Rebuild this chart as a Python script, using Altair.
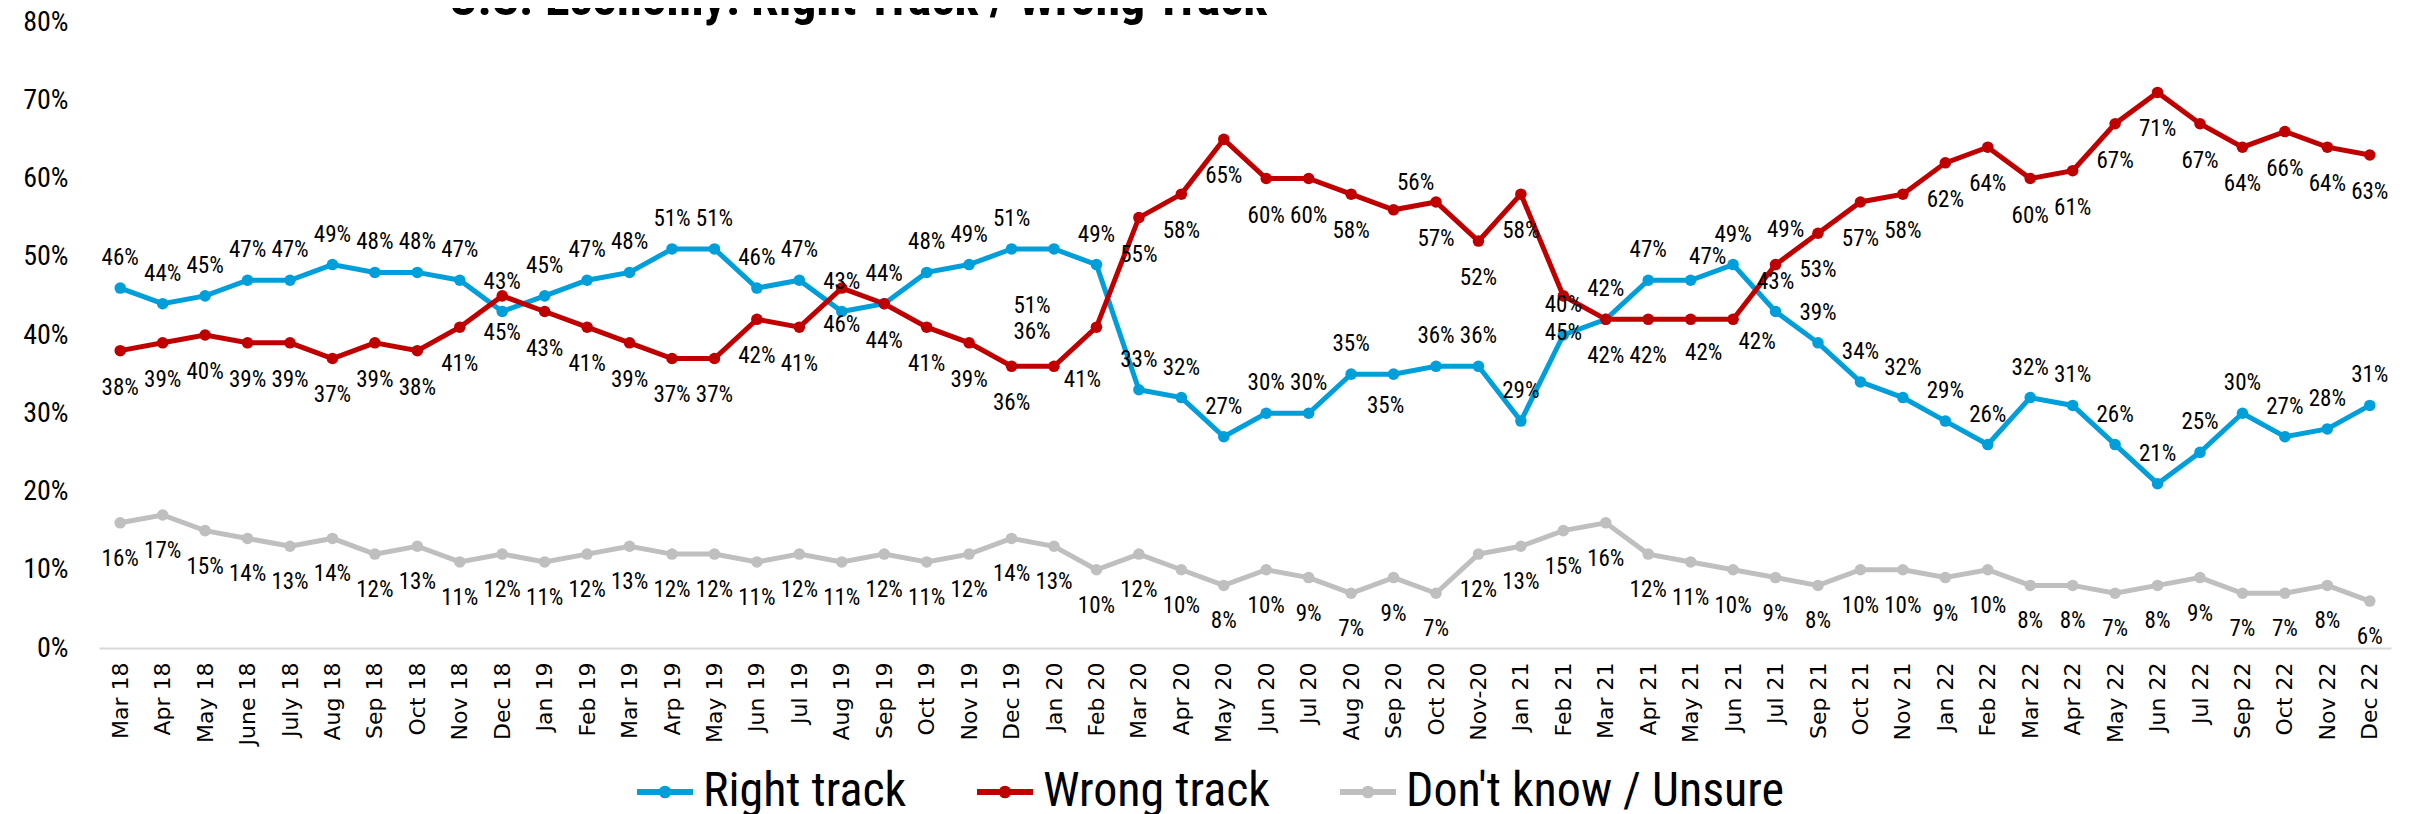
import altair as alt
import pandas as pd

MONTHS = ["Mar 18", "Apr 18", "May 18", "June 18", "July 18", "Aug 18", "Sep 18", "Oct 18", "Nov 18", "Dec 18",
          "Jan 19", "Feb 19", "Mar 19", "Arp 19", "May 19", "Jun 19", "Jul 19", "Aug 19", "Sep 19", "Oct 19", "Nov 19", "Dec 19",
          "Jan 20", "Feb 20", "Mar 20", "Apr 20", "May 20", "Jun 20", "Jul 20", "Aug 20", "Sep 20", "Oct 20", "Nov-20",
          "Jan 21", "Feb 21", "Mar 21", "Apr 21", "May 21", "Jun 21", "Jul 21", "Sep 21", "Oct 21", "Nov 21",
          "Jan 22", "Feb 22", "Mar 22", "Apr 22", "May 22", "Jun 22", "Jul 22", "Sep 22", "Oct 22", "Nov 22", "Dec 22"]

RIGHT = [46, 44, 45, 47, 47, 49, 48, 48, 47, 43,
         45, 47, 48, 51, 51, 46, 47, 43, 44, 48, 49, 51,
         51, 49, 33, 32, 27, 30, 30, 35, 35, 36, 36,
         29, 40, 42, 47, 47, 49, 43, 39, 34, 32,
         29, 26, 32, 31, 26, 21, 25, 30, 27, 28, 31]

WRONG = [38, 39, 40, 39, 39, 37, 39, 38, 41, 45,
         43, 41, 39, 37, 37, 42, 41, 46, 44, 41, 39, 36,
         36, 41, 55, 58, 65, 60, 60, 58, 56, 57, 52,
         58, 45, 42, 42, 42, 42, 49, 53, 57, 58,
         62, 64, 60, 61, 67, 71, 67, 64, 66, 64, 63]

DONT_KNOW = [16, 17, 15, 14, 13, 14, 12, 13, 11, 12,
             11, 12, 13, 12, 12, 11, 12, 11, 12, 11, 12, 14,
             13, 10, 12, 10, 8, 10, 9, 7, 9, 7, 12,
             13, 15, 16, 12, 11, 10, 9, 8, 10, 10,
             9, 10, 8, 8, 7, 8, 9, 7, 7, 8, 6]

SERIES = ["Right track", "Wrong track", "Don't know / Unsure"]
COLORS = ["#009FDA", "#C00000", "#BFBFBF"]
TITLE = "U.S. Economy: Right Track / Wrong Track"

# label placement (pixel nudges) per series, plus a few individual ones
LABEL_DEFAULT = {"Right track": (0, -30), "Wrong track": (0, 37), "Don't know / Unsure": (0, 36)}
LABEL_NUDGE = {
    ("Right track", "Jan 20"): (-22, 57),
    ("Wrong track", "Jan 20"): (-22, -34),
    ("Wrong track", "Feb 20"): (-14, 53),
    ("Wrong track", "Sep 20"): (22, -27),
    ("Right track", "Sep 20"): (-8, 32),
    ("Right track", "May 21"): (17, -23),
    ("Wrong track", "May 21"): (13, 34),
    ("Wrong track", "Jun 21"): (24, 23),
    ("Wrong track", "Jul 21"): (10, -35),
}

rows = []
for name, vals in zip(SERIES, [RIGHT, WRONG, DONT_KNOW]):
    for m, v in zip(MONTHS, vals):
        dx, dy = LABEL_NUDGE.get((name, m), LABEL_DEFAULT[name])
        rows.append({"month": m, "series": name, "share": v / 100.0, "lx": dx, "ly": dy})
df = pd.DataFrame(rows)

NARROW = "Liberation Sans Narrow, Arial Narrow, Roboto Condensed, Liberation Sans, sans-serif"
LEG_PATH = "M-1,0L1,0M-0.12,0A0.12,0.12,0,1,1,0.12,0A0.12,0.12,0,1,1,-0.12,0Z"

x = alt.X("month:N", sort=MONTHS, scale=alt.Scale(type="point", padding=0.5),
          axis=alt.Axis(title=None, labelAngle=270, labelFont="DejaVu Sans", labelFontSize=22,
                        labelColor="#000000", ticks=False, labelPadding=14, domainColor="#D9D9D9",
                        domainWidth=2, grid=False, labelOverlap=False))
y = alt.Y("share:Q", scale=alt.Scale(domain=[0, 0.8], nice=False),
          axis=alt.Axis(title=None, format=".0%", values=[i / 10 for i in range(9)], domain=False,
                        ticks=False, grid=False, labelFont=NARROW, labelFontSize=28,
                        labelColor="#000000", labelPadding=31))
color = alt.Color("series:N", scale=alt.Scale(domain=SERIES, range=COLORS),
                  legend=alt.Legend(orient="none", legendX=535, legendY=739, direction="horizontal",
                                    title=None, symbolType=LEG_PATH, symbolSize=3136,
                                    symbolStrokeWidth=6, labelFontSize=48, labelFont=NARROW,
                                    labelColor="#000000", columnPadding=58, labelOffset=7,
                                    labelLimit=1000, symbolOpacity=1))

lines = alt.Chart(df).mark_line(strokeWidth=5).encode(x=x, y=y, color=color)
dots = alt.Chart(df).mark_circle(size=133, opacity=1).encode(x=x, y=y, color=color)

label_layers = []
for (dx, dy), part in df.groupby(["lx", "ly"]):
    label_layers.append(
        alt.Chart(part).mark_text(font=NARROW, fontSize=23, color="#000000", baseline="middle",
                                  dx=int(dx), dy=int(dy)).encode(
            x=x, y=y, text=alt.Text("share:Q", format=".0%"))
    )

# chart title (its upper part falls outside the picture, as in the original slide crop)
title_text = alt.Chart(pd.DataFrame({"t": [TITLE]})).mark_text(
    font=NARROW, fontSize=50, fontWeight="bold", color="#000000", align="left",
    baseline="alphabetic").encode(text="t:N", x=alt.value(350), y=alt.value(-7))

chart = alt.layer(lines, dots, *label_layers, title_text).properties(
    width=2292, height=626,
    padding={"left": 91, "top": 14, "right": 16, "bottom": 166},
    autosize=alt.AutoSizeParams(type="none"),
    background="white",
).configure_view(stroke=None)

chart.save("out.html", embed_options={"renderer": "svg", "actions": False})
